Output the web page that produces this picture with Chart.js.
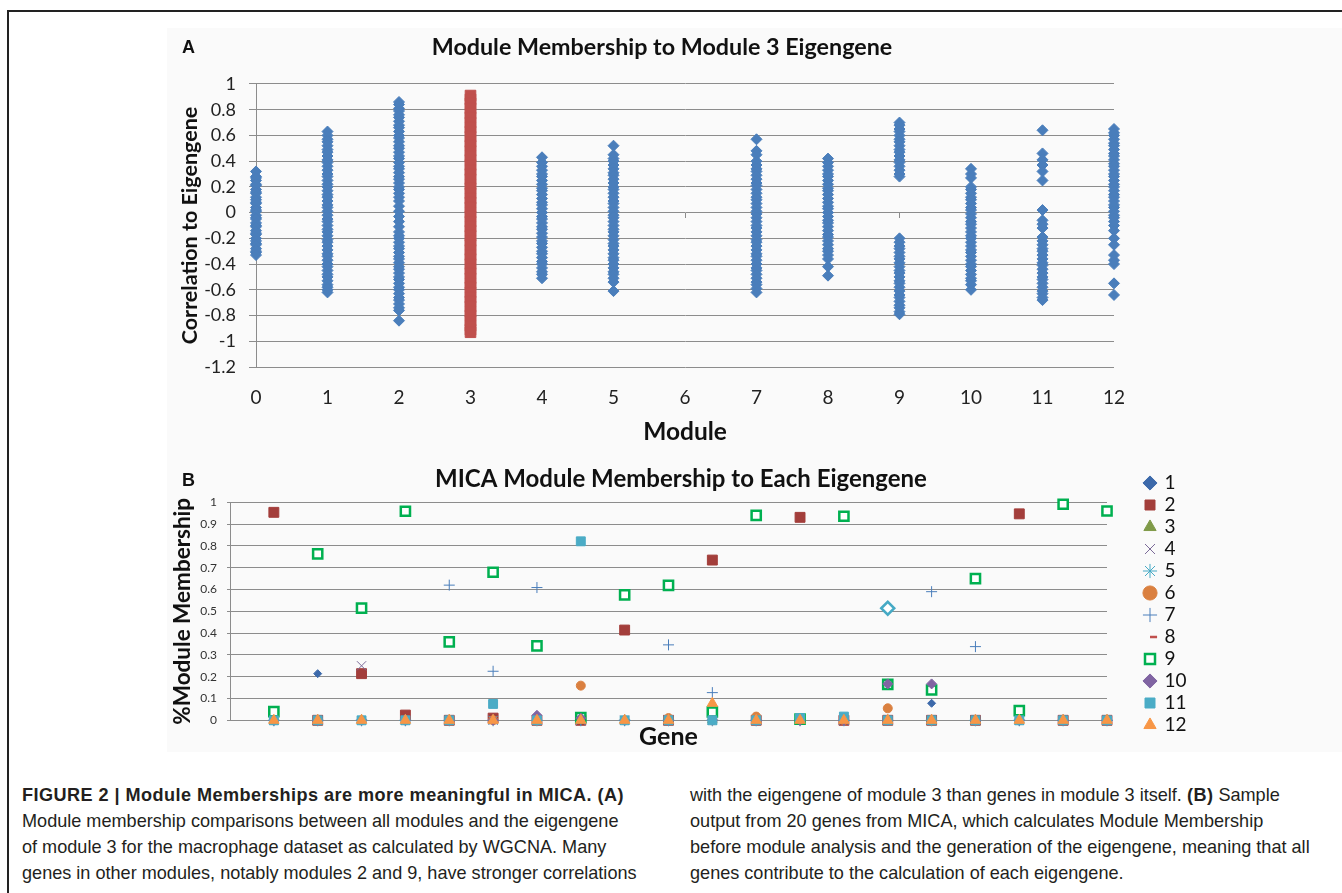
<!DOCTYPE html>
<html>
<head>
<meta charset="utf-8">
<title>Figure 2 – Module Membership</title>
<script src="https://cdn.jsdelivr.net/npm/chart.js@4.4.1/dist/chart.umd.min.js"></script>
<style>
  html, body { margin: 0; padding: 0; background: #fff; }
  body { width: 1342px; height: 893px; position: relative; overflow: hidden;
         font-family: 'Liberation Sans', Arial, sans-serif; color: #231f20; }
  #frame { position: absolute; left: 7px; top: 10px; right: -10px; bottom: -10px;
           border-left: 2px solid #222; border-top: 2px solid #222; }
  #panel { position: absolute; left: 167px; top: 28px; width: 1175px; height: 724px; background: #fafafa; }
  canvas { position: absolute; left: 0; }
  #chartA { top: 0; }
  #chartB { top: 455px; }
  .tag { position: absolute; left: 182px; font: bold 18px 'Liberation Sans', Arial, sans-serif;
         line-height: 20px; color: #111; }
  .cap { position: absolute; top: 782px; font-size: 18.1px; line-height: 26px; white-space: nowrap; }
  .cap b { letter-spacing: 0.45px; }
</style>
</head>
<body>
<div id="frame"></div>
<div id="panel"></div>
<canvas id="chartA" width="1342" height="447"></canvas>
<canvas id="chartB" width="1342" height="300"></canvas>
<div class="tag" style="top:37px">A</div>
<div class="tag" style="top:470px">B</div>
<div class="cap" style="left:22px">
  <b>FIGURE 2 | Module Memberships are more meaningful in MICA. (A)</b><br>
  Module membership comparisons between all modules and the eigengene<br>
  of module 3 for the macrophage dataset as calculated by WGCNA. Many<br>
  genes in other modules, notably modules 2 and 9, have stronger correlations
</div>
<div class="cap" style="left:690px">
  with the eigengene of module 3 than genes in module 3 itself. <b>(B)</b> Sample<br>
  output from 20 genes from MICA, which calculates Module Membership<br>
  before module analysis and the generation of the eigengene, meaning that all<br>
  genes contribute to the calculation of each eigengene.
</div>
<script>
// ---------- Panel A: correlation of every gene to the module 3 eigengene ----------
const moduleIds = [0, 1, 2, 3, 4, 5, 6, 7, 8, 9, 10, 11, 12];
const module0 = [0.32, 0.28, 0.27, 0.25, 0.22, 0.21, 0.18, 0.16, 0.15, 0.12, 0.10, 0.08, 0.07, 0.04, 0.02, 0.01, -0.02, -0.04, -0.05, -0.08, -0.10, -0.11, -0.14, -0.16, -0.17, -0.20, -0.22, -0.24, -0.25, -0.28, -0.30, -0.31, -0.33];
const module1 = [0.63, 0.60, 0.57, 0.55, 0.52, 0.49, 0.47, 0.44, 0.41, 0.39, 0.36, 0.33, 0.30, 0.28, 0.25, 0.22, 0.20, 0.17, 0.14, 0.12, 0.09, 0.06, 0.04, 0.01, -0.02, -0.05, -0.07, -0.10, -0.13, -0.15, -0.18, -0.21, -0.23, -0.26, -0.29, -0.32, -0.34, -0.37, -0.40, -0.42, -0.45, -0.48, -0.50, -0.53, -0.56, -0.58, -0.60, -0.62];
const module2 = [0.86, 0.84, 0.81, 0.79, 0.76, 0.74, 0.71, 0.68, 0.66, 0.63, 0.60, 0.58, 0.55, 0.52, 0.50, 0.47, 0.44, 0.42, 0.39, 0.36, 0.34, 0.31, 0.28, 0.26, 0.23, 0.20, 0.18, 0.15, 0.12, 0.09, 0.05, 0.01, -0.03, -0.07, -0.11, -0.15, -0.18, -0.20, -0.23, -0.26, -0.28, -0.31, -0.34, -0.36, -0.39, -0.42, -0.44, -0.47, -0.50, -0.52, -0.55, -0.58, -0.60, -0.63, -0.66, -0.68, -0.71, -0.74, -0.76, -0.84];
const module3 = [0.91, 0.88, 0.85, 0.81, 0.77, 0.74, 0.70, 0.66, 0.63, 0.59, 0.55, 0.52, 0.48, 0.44, 0.41, 0.37, 0.33, 0.30, 0.26, 0.22, 0.19, 0.15, 0.11, 0.08, 0.04, 0.00, -0.03, -0.07, -0.11, -0.14, -0.18, -0.22, -0.25, -0.29, -0.33, -0.36, -0.40, -0.44, -0.47, -0.51, -0.55, -0.58, -0.62, -0.66, -0.69, -0.73, -0.77, -0.80, -0.84, -0.88, -0.91, -0.93];
const module4 = [0.43, 0.39, 0.36, 0.33, 0.30, 0.28, 0.25, 0.22, 0.19, 0.17, 0.14, 0.11, 0.08, 0.06, 0.03, 0.00, -0.03, -0.05, -0.08, -0.11, -0.13, -0.16, -0.19, -0.22, -0.24, -0.27, -0.30, -0.32, -0.35, -0.38, -0.40, -0.43, -0.46, -0.48, -0.51];
const module5 = [0.52, 0.45, 0.42, 0.40, 0.37, 0.34, 0.31, 0.29, 0.26, 0.23, 0.20, 0.18, 0.15, 0.12, 0.09, 0.07, 0.04, 0.01, -0.02, -0.04, -0.07, -0.10, -0.13, -0.15, -0.18, -0.21, -0.24, -0.26, -0.29, -0.32, -0.35, -0.37, -0.40, -0.43, -0.46, -0.48, -0.51, -0.54, -0.61];
const module6 = [];
const module7 = [0.57, 0.48, 0.45, 0.40, 0.37, 0.34, 0.32, 0.29, 0.26, 0.23, 0.21, 0.18, 0.15, 0.12, 0.10, 0.07, 0.04, 0.01, -0.01, -0.04, -0.07, -0.10, -0.12, -0.15, -0.18, -0.21, -0.23, -0.26, -0.29, -0.32, -0.34, -0.37, -0.40, -0.43, -0.45, -0.48, -0.51, -0.54, -0.56, -0.59, -0.62];
const module8 = [0.42, 0.39, 0.36, 0.33, 0.30, 0.28, 0.25, 0.22, 0.19, 0.17, 0.14, 0.11, 0.08, 0.05, 0.03, 0.00, -0.03, -0.06, -0.08, -0.11, -0.14, -0.17, -0.19, -0.22, -0.25, -0.28, -0.30, -0.33, -0.36, -0.42, -0.49];
const module9 = [0.70, 0.68, 0.65, 0.63, 0.60, 0.57, 0.55, 0.52, 0.49, 0.47, 0.44, 0.41, 0.39, 0.36, 0.33, 0.30, 0.28, -0.20, -0.23, -0.26, -0.28, -0.31, -0.34, -0.36, -0.39, -0.42, -0.45, -0.47, -0.50, -0.53, -0.55, -0.58, -0.61, -0.64, -0.66, -0.69, -0.72, -0.74, -0.77, -0.79];
const module10 = [0.34, 0.30, 0.27, 0.20, 0.18, 0.15, 0.12, 0.10, 0.07, 0.04, 0.02, -0.01, -0.04, -0.07, -0.09, -0.12, -0.15, -0.18, -0.20, -0.23, -0.26, -0.29, -0.31, -0.34, -0.37, -0.40, -0.42, -0.45, -0.48, -0.51, -0.53, -0.56, -0.60];
const module11 = [0.64, 0.46, 0.41, 0.37, 0.32, 0.25, 0.02, -0.06, -0.09, -0.12, -0.19, -0.22, -0.25, -0.28, -0.30, -0.33, -0.36, -0.39, -0.41, -0.44, -0.47, -0.50, -0.52, -0.55, -0.58, -0.61, -0.63, -0.66, -0.68];
const module12 = [0.65, 0.62, 0.60, 0.57, 0.54, 0.52, 0.49, 0.46, 0.44, 0.41, 0.38, 0.36, 0.33, 0.30, 0.28, 0.25, 0.22, 0.20, 0.17, 0.14, 0.12, 0.09, 0.06, 0.04, 0.01, -0.02, -0.04, -0.07, -0.10, -0.14, -0.20, -0.25, -0.33, -0.37, -0.40, -0.55, -0.64];
const focusModule = 3;

// ---------- Panel B: MICA membership of 20 sample genes to each eigengene ----------
const genes = [1, 2, 3, 4, 5, 6, 7, 8, 9, 10, 11, 12, 13, 14, 15, 16, 17, 18, 19, 20];
const eigengeneNames = ['1', '2', '3', '4', '5', '6', '7', '8', '9', '10', '11', '12'];
const membership1  = [0, 0.214, 0, 0, 0, 0, 0, 0, 0, 0, 0, 0, 0, 0, 0, 0.078, 0, 0, 0, 0];
const membership2  = [0.954, 0, 0.214, 0.024, 0, 0.01, 0, 0, 0.414, 0, 0.735, 0, 0.931, 0, 0, 0, 0, 0.947, 0, 0];
const membership3  = [0, 0, 0, 0, 0, 0, 0, 0, 0, 0, 0, 0, 0, 0, 0, 0, 0, 0, 0, 0];
const membership4  = [0, 0, 0.25, 0, 0, 0, 0, 0, 0, 0, 0, 0, 0, 0, 0, 0, 0, 0, 0, 0];
const membership5  = [0, 0, 0, 0, 0, 0, 0, 0, 0, 0, 0, 0, 0, 0, 0.514, 0, 0, 0, 0, 0];
const membership6  = [0, 0, 0, 0, 0, 0, 0, 0.159, 0, 0.01, 0, 0.017, 0, 0, 0.055, 0, 0, 0, 0, 0];
const membership7  = [0, 0, 0, 0, 0.62, 0.225, 0.609, 0, 0, 0.346, 0.127, 0, 0, 0, 0, 0.59, 0.338, 0, 0, 0];
const membership8  = [0, 0, 0, 0, 0, 0, 0, 0, 0, 0, 0, 0, 0, 0, 0, 0, 0, 0, 0, 0];
const membership9  = [0.04, 0.763, 0.515, 0.959, 0.36, 0.679, 0.341, 0.012, 0.575, 0.619, 0.038, 0.94, 0.005, 0.936, 0.165, 0.139, 0.65, 0.044, 0.991, 0.96];
const membership10 = [0, 0, 0, 0, 0, 0, 0.023, 0.01, 0, 0, 0, 0, 0, 0, 0.167, 0.167, 0, 0, 0, 0];
const membership11 = [0, 0, 0, 0, 0, 0.075, 0, 0.821, 0, 0, 0, 0, 0.01, 0.017, 0, 0, 0, 0, 0, 0];
const membership12 = [0, 0, 0, 0, 0, 0, 0, 0, 0, 0, 0.078, 0, 0, 0, 0, 0, 0, 0, 0, 0];

// ---------- shared styling ----------
Chart.defaults.font.family = "Lato, 'Open Sans', sans-serif";
Chart.defaults.color = '#222';
const GRID = '#8c8c8c';
const oneDecimal = v => String(Math.round(v * 10) / 10);

// ---------- Panel A chart ----------
const moduleValues = [module0, module1, module2, module3, module4, module5, module6,
                      module7, module8, module9, module10, module11, module12];
const toPoints = (vals, m) => vals.map(v => ({ x: m, y: v }));
const otherPoints = moduleIds.flatMap((m, i) => m === focusModule ? [] : toPoints(moduleValues[i], m));
const focusPoints = toPoints(moduleValues[moduleIds.indexOf(focusModule)], focusModule);

new Chart(document.getElementById('chartA'), {
  type: 'scatter',
  data: {
    datasets: [
      { label: 'Other modules', data: otherPoints, pointStyle: 'rectRot', pointRadius: 5.5,
        backgroundColor: '#4A7EBB', borderColor: '#4A7EBB', borderWidth: 1, clip: false },
      { label: 'Module 3', data: focusPoints, pointStyle: 'rect', pointRadius: 7.5,
        backgroundColor: '#C0504D', borderColor: '#C0504D', borderWidth: 1, clip: false }
    ]
  },
  options: {
    responsive: false, animation: false, events: [],
    layout: { padding: { left: 170, right: 188, top: 20, bottom: 0 } },
    plugins: {
      legend: { display: false },
      tooltip: { enabled: false },
      title: { display: true, text: 'Module Membership to Module 3 Eigengene', color: '#111',
               font: { size: 23.3, weight: 'bold', lineHeight: 1.2 }, padding: { top: 13, bottom: 23 } }
    },
    scales: {
      x: {
        type: 'linear', position: 'bottom', min: 0, max: 12,
        ticks: { stepSize: 1, padding: 19, font: { size: 19 }, color: '#222' },
        grid: { display: false, drawTicks: false }, border: { display: false },
        title: { display: true, text: 'Module', color: '#111', font: { size: 24.5, weight: 'bold' },
                 padding: { top: 0, bottom: 0 } },
        afterFit: s => { s.height = 80; }
      },
      // small tick marks hanging from the zero line
      xZero: {
        type: 'linear', position: { y: 0 }, min: 0, max: 12,
        ticks: { display: false, stepSize: 1 },
        grid: { drawOnChartArea: false, drawTicks: true, tickLength: 5, color: GRID },
        border: { display: false }
      },
      y: {
        type: 'linear', position: 'left', min: -1.2, max: 1,
        ticks: { stepSize: 0.2, padding: 13, font: { size: 18 }, color: '#222', callback: oneDecimal },
        grid: { color: GRID, tickLength: 7 }, border: { display: true, color: GRID },
        title: { display: true, text: 'Correlation to Eigengene', color: '#111',
                 font: { size: 21.5, weight: 'bold' }, padding: { top: 7, bottom: 0 } },
        afterFit: s => { s.width = 86; }
      },
      // empty right margin inside the chart frame
      yMargin: {
        type: 'linear', position: 'right', display: true,
        ticks: { display: false }, grid: { display: false, drawTicks: false }, border: { display: false },
        afterFit: s => { s.width = 40; }
      }
    }
  }
});

// ---------- Panel B chart ----------
const membershipSeries = [membership1, membership2, membership3, membership4, membership5, membership6,
                          membership7, membership8, membership9, membership10, membership11, membership12];
const markerStyles = [
  { pointStyle: 'rectRot',  radius: 4,   fill: '#3C69AA', line: '#3C69AA', width: 1 },
  { pointStyle: 'rect',     radius: 7,   fill: '#A33E3B', line: '#A33E3B', width: 1 },
  { pointStyle: 'triangle', radius: 5.5, fill: '#7F9A48', line: '#7F9A48', width: 1 },
  { pointStyle: 'crossRot', radius: 6.5, fill: '#7B6A98', line: '#7B6A98', width: 1 },
  { pointStyle: 'star',     radius: 6,   fill: '#ffffff', line: '#46AAC5', width: 1 },
  { pointStyle: 'circle',   radius: 4.5, fill: '#DA8040', line: '#DA8040', width: 1 },
  { pointStyle: 'cross',    radius: 5.5, fill: '#4A7EBB', line: '#4A7EBB', width: 1 },
  { pointStyle: 'dash',     radius: 5,   fill: '#C0504D', line: '#C0504D', width: 2.5 },
  { pointStyle: 'rect',     radius: 6.5, fill: '#ffffff', line: '#00B050', width: 2.5 },
  { pointStyle: 'rectRot',  radius: 5,   fill: '#8064A2', line: '#8064A2', width: 1 },
  { pointStyle: 'rect',     radius: 6.3, fill: '#4BACC6', line: '#4BACC6', width: 1 },
  { pointStyle: 'triangle', radius: 6,   fill: '#F79646', line: '#F79646', width: 1 }
];

const membershipDatasets = membershipSeries.map((vals, i) => {
  const st = markerStyles[i];
  const ds = {
    label: eigengeneNames[i],
    data: genes.map((g, j) => ({ x: g, y: vals[j] })),
    pointStyle: st.pointStyle, pointRadius: st.radius,
    backgroundColor: st.fill, borderColor: st.line, borderWidth: st.width,
    showLine: false, clip: false,
    order: membershipSeries.length - i   // later eigengenes are drawn on top
  };
  if (eigengeneNames[i] === '5') {
    // the non-zero membership of eigengene 5 is shown as an open diamond
    ds.pointStyle = ctx => (ctx.raw && ctx.raw.y > 0 ? 'rectRot' : 'star');
    ds.pointRadius = ctx => (ctx.raw && ctx.raw.y > 0 ? 6.5 : 6);
    ds.borderWidth = ctx => (ctx.raw && ctx.raw.y > 0 ? 2.5 : 1);
  }
  return ds;
});

new Chart(document.getElementById('chartB'), {
  type: 'scatter',
  data: { datasets: membershipDatasets },
  options: {
    responsive: false, animation: false, events: [],
    layout: { padding: { left: 170, right: 150, top: 15.5, bottom: 2.7 } },
    plugins: {
      tooltip: { enabled: false },
      title: { display: true, text: 'MICA Module Membership to Each Eigengene', color: '#111',
               font: { size: 24, weight: 'bold', lineHeight: 1 }, padding: { top: -3, bottom: 10.8 } },
      legend: {
        display: true, position: 'right', align: 'start', maxWidth: 50,
        labels: {
          usePointStyle: true, boxWidth: 10, boxHeight: 10, padding: 3,
          font: { size: 19 }, color: '#111',
          sort: (a, b) => a.datasetIndex - b.datasetIndex
        }
      }
    },
    scales: {
      x: {
        type: 'linear', position: 'bottom', min: 0, max: 20,
        ticks: { display: false }, grid: { display: false, drawTicks: false }, border: { display: false },
        title: { display: true, text: 'Gene', color: '#111', font: { size: 25, weight: 'bold', lineHeight: 1.1 },
                 padding: { top: 0, bottom: 2 } },
        afterFit: s => { s.height = 32; }
      },
      y: {
        type: 'linear', position: 'left', min: 0, max: 1,
        ticks: { stepSize: 0.1, padding: 10, font: { size: 12 }, color: '#333', callback: oneDecimal },
        grid: { color: GRID, tickLength: 3 }, border: { display: true, color: GRID },
        title: { display: true, text: '%Module Membership', color: '#111',
                 font: { size: 22.5, weight: 'bold' }, padding: { top: -1, bottom: 0 } },
        afterFit: s => { s.width = 60; }
      },
      // gap between the plot and the legend
      yGap: {
        type: 'linear', position: 'right', display: true,
        ticks: { display: false }, grid: { display: false, drawTicks: false }, border: { display: false },
        afterFit: s => { s.width = 35; }
      }
    }
  }
});
</script>
</body>
</html>
